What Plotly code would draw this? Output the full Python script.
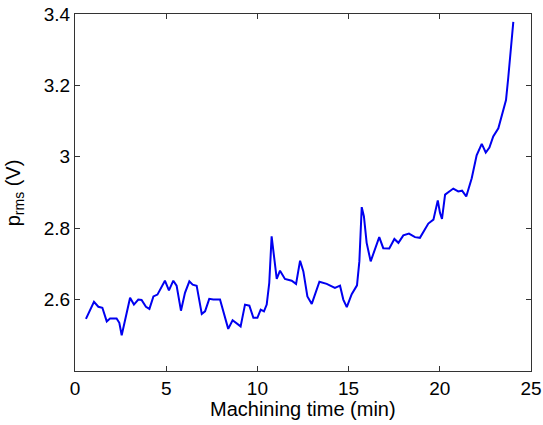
import plotly.graph_objects as go

time_min = [0.60, 1.04, 1.28, 1.50, 1.74, 1.92, 2.28, 2.43, 2.56, 2.65, 3.02, 3.23, 3.47, 3.65,
            3.89, 4.08, 4.30, 4.52, 4.70, 4.93, 5.15, 5.39, 5.57, 5.81, 6.03, 6.27, 6.45, 6.67,
            6.95, 7.13, 7.36, 7.58, 7.95, 8.17, 8.40, 8.64, 9.08, 9.32, 9.56, 9.78, 10.00, 10.18,
            10.36, 10.51, 10.65, 10.78, 10.87, 11.06, 11.24, 11.51, 11.88, 12.12, 12.34, 12.52,
            12.74, 12.98, 13.40, 13.80, 14.25, 14.53, 14.71, 14.90, 15.17, 15.46, 15.59, 15.72,
            15.84, 15.99, 16.21, 16.68, 16.90, 17.23, 17.51, 17.73, 18.00, 18.31, 18.64, 18.91,
            19.37, 19.65, 19.89, 20.01, 20.12, 20.29, 20.74, 21.01, 21.22, 21.45, 21.75, 22.02,
            22.30, 22.52, 22.72, 22.93, 23.21, 23.48, 23.63, 23.75, 23.88, 24.03]
p_rms = [2.546, 2.594, 2.580, 2.577, 2.539, 2.547, 2.547, 2.535, 2.500, 2.521, 2.605, 2.586, 2.600, 2.599,
         2.580, 2.574, 2.609, 2.614, 2.633, 2.653, 2.626, 2.653, 2.639, 2.569, 2.619, 2.651, 2.642, 2.639,
         2.560, 2.567, 2.602, 2.600, 2.600, 2.563, 2.518, 2.542, 2.525, 2.586, 2.583, 2.549, 2.549, 2.572,
         2.567, 2.586, 2.647, 2.777, 2.740, 2.658, 2.681, 2.658, 2.653, 2.644, 2.709, 2.679,
         2.609, 2.588, 2.650, 2.644, 2.633, 2.639, 2.600, 2.579, 2.615, 2.640, 2.707, 2.859,
         2.833, 2.759, 2.707, 2.775, 2.744, 2.743, 2.770, 2.759, 2.780, 2.785, 2.775, 2.773,
         2.813, 2.824, 2.878, 2.843, 2.826, 2.894, 2.911, 2.903, 2.905, 2.889, 2.940, 3.004,
         3.036, 3.012, 3.026, 3.057, 3.080, 3.127, 3.159, 3.220, 3.299, 3.378]

x_ticks = [0, 5, 10, 15, 20, 25]
y_ticks = [2.6, 2.8, 3.0, 3.2, 3.4]
y_tick_labels = ["2.6", "2.8", "3", "3.2", "3.4"]
x_title = "Machining time (min)"
y_title = "p<sub>rms</sub> (V)"

fig = go.Figure()
fig.add_trace(go.Scatter(x=time_min, y=p_rms, mode="lines",
                         line=dict(color="#0000f0", width=2), showlegend=False))

axis_common = dict(showline=True, linecolor="#333333", linewidth=1, mirror="ticks",
                   ticks="inside", ticklen=5, tickcolor="#333333", showgrid=False,
                   zeroline=False, automargin=False,
                   tickfont=dict(family="Liberation Sans, Arial", size=19, color="black"))

fig.update_layout(
    width=543, height=425,
    margin=dict(l=75, r=12, t=14, b=54),
    paper_bgcolor="white", plot_bgcolor="white",
    font=dict(family="Liberation Sans, Arial", size=19, color="black"),
    xaxis=dict(range=[0, 25], tickvals=x_ticks, **axis_common),
    yaxis=dict(range=[2.4, 3.4], tickvals=y_ticks, ticktext=y_tick_labels, **axis_common),
    annotations=[
        dict(text=x_title, xref="paper", yref="paper", x=0.5, y=-0.106,
             xanchor="center", yanchor="middle", showarrow=False,
             font=dict(family="Liberation Sans, Arial", size=20, color="black")),
        dict(text=y_title, xref="paper", yref="paper", x=-0.132, y=0.5, textangle=-90,
             xanchor="center", yanchor="middle", showarrow=False,
             font=dict(family="Liberation Sans, Arial", size=20, color="black")),
    ],
)

fig.write_html("out.html")
